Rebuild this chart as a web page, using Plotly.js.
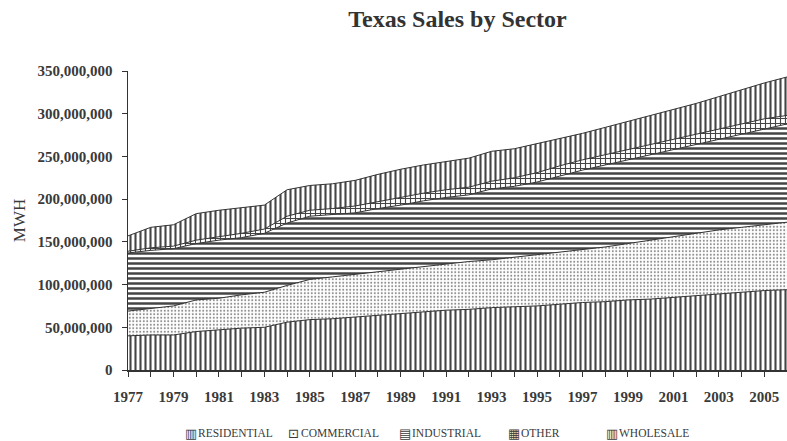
<!DOCTYPE html>
<html>
<head>
<meta charset="utf-8">
<script src="https://cdn.plot.ly/plotly-3.0.1.min.js"></script>
<style>html,body{margin:0;padding:0;background:#fff;}#chart{width:787px;height:441px;}</style>
</head>
<body>
<div id="chart"></div>
<script>
// Years (category values)
var years = [1977,1978,1979,1980,1981,1982,1983,1984,1985,1986,1987,1988,1989,1990,1991,
             1992,1993,1994,1995,1996,1997,1998,1999,2000,2001,2002,2003,2004,2005,2006];

// Sales by sector, millions of MWH
var residential = [40,41,41,45,47,49,50,56,59,60,62,64,66,68,70,71,73,74,75,77,79,80,82,83,85,87,89,91,93,94];
var commercial  = [29,31,34,37,37,39,41,43,47,49,50,51,52,53,54,56,56,58,60,61,62,64,66,69,71,73,75,76,77,79];
var industrial  = [68,68,67,66,68,67,69,73,74,73,72,74,75,77,78,78,83,83,85,89,93,96,98,100,102,104,106,109,112,115];
var other       = [2,3,3,4,4,5,5,8,7,7,8,8,9,9,9,9,9,10,11,12,12,12,12,12,12,12,12,12,12,10];
var wholesale   = [18,24,25,31,31,30,28,31,29,29,30,32,33,33,33,34,35,34,34,32,31,32,33,34,35,36,38,40,42,45];

// Series names and legend glyphs
var seriesNames  = ['RESIDENTIAL','COMMERCIAL','INDUSTRIAL','OTHER','WHOLESALE'];
var legendGlyphs = ['\u25A5','\u22A1','\u25A4','\u25A6','\u25A5'];

// Tick labels
var xTickVals = years;
var xTickText = ['1977','','1979','','1981','','1983','','1985','','1987','','1989','','1991','',
                 '1993','','1995','','1997','','1999','','2001','','2003','','2005',''];
var yTickVals = [0,50,100,150,200,250,300,350];
var yTickText = ['0','50,000,000','100,000,000','150,000,000','200,000,000','250,000,000','300,000,000','350,000,000'];

var dark = '#454545';
var serif = 'Liberation Serif, Times New Roman, serif';

function area(name, y, pattern) {
  return {
    x: years, y: y, name: name, type: 'scatter', mode: 'lines',
    stackgroup: 'one', showlegend: false,
    line: {color: '#333333', width: 1},
    fillcolor: '#ffffff',
    fillpattern: pattern,
    hoverinfo: 'skip'
  };
}

var data = [
  area(seriesNames[0], residential, {shape: '|', fgcolor: dark, bgcolor: '#ffffff', size: 5, solidity: 0.42}),
  area(seriesNames[1], commercial, {shape: '.', fgcolor: '#8a8a8a', bgcolor: '#ffffff', size: 3.5, solidity: 0.25}),
  area(seriesNames[2], industrial, {shape: '-', fgcolor: dark, bgcolor: '#ffffff', size: 5, solidity: 0.5}),
  area(seriesNames[3], other, {shape: '+', fgcolor: dark, bgcolor: '#ffffff', size: 5, solidity: 0.4}),
  area(seriesNames[4], wholesale, {shape: '|', fgcolor: dark, bgcolor: '#ffffff', size: 5, solidity: 0.42})
];

// Legend drawn as annotations (glyph + label), positions in paper units
var plotL = 128, plotW = 659, plotB = 370, plotH = 299;
var legendGlyphX = [183, 286, 397, 506, 604];
var legendY = 433;
var annotations = [];
for (var i = 0; i < seriesNames.length; i++) {
  annotations.push({
    xref: 'paper', yref: 'paper',
    x: (legendGlyphX[i] - plotL) / plotW, y: (plotB - legendY) / plotH,
    xanchor: 'left', yanchor: 'middle', showarrow: false,
    text: legendGlyphs[i],
    font: {family: 'DejaVu Sans', size: 13, color: '#3a3a3a'}
  });
  annotations.push({
    xref: 'paper', yref: 'paper',
    x: (legendGlyphX[i] + 13 - plotL) / plotW, y: (plotB - legendY) / plotH,
    xanchor: 'left', yanchor: 'middle', showarrow: false,
    text: seriesNames[i],
    font: {family: serif, size: 11.5, color: '#3a3a3a'}
  });
}

var layout = {
  width: 787, height: 441,
  paper_bgcolor: '#ffffff', plot_bgcolor: '#ffffff',
  margin: {l: 128, r: 0, t: 71, b: 71, pad: 0},
  title: {
    text: '<b>Texas Sales by Sector</b>',
    font: {family: serif, size: 24, color: '#333333'},
    xref: 'paper', x: 0.5, xanchor: 'center',
    yref: 'container', y: 0.958, yanchor: 'middle'
  },
  xaxis: {
    range: [1977, 2006],
    tickmode: 'array', tickvals: xTickVals, ticktext: xTickText,
    ticks: 'outside', ticklen: 5, tickcolor: '#333', tickwidth: 1,
    showline: true, linecolor: '#333', linewidth: 1.5,
    showgrid: false, zeroline: false,
    ticklabelstandoff: 7,
    tickfont: {family: serif, size: 15, color: '#3a3a3a', weight: 'bold'}
  },
  yaxis: {
    range: [0, 350],
    tickmode: 'array', tickvals: yTickVals, ticktext: yTickText,
    ticks: 'outside', ticklen: 5, tickcolor: '#333', tickwidth: 1,
    showline: true, linecolor: '#333', linewidth: 1.5,
    showgrid: false, zeroline: false,
    ticklabelstandoff: 6,
    tickfont: {family: serif, size: 15, color: '#3a3a3a', weight: 'bold'},
    title: {text: 'MWH', font: {family: serif, size: 17, color: '#3a3a3a'}, standoff: 7}
  },
  showlegend: false,
  annotations: annotations
};

Plotly.newPlot('chart', data, layout, {displayModeBar: false, staticPlot: true});
</script>
</body>
</html>
